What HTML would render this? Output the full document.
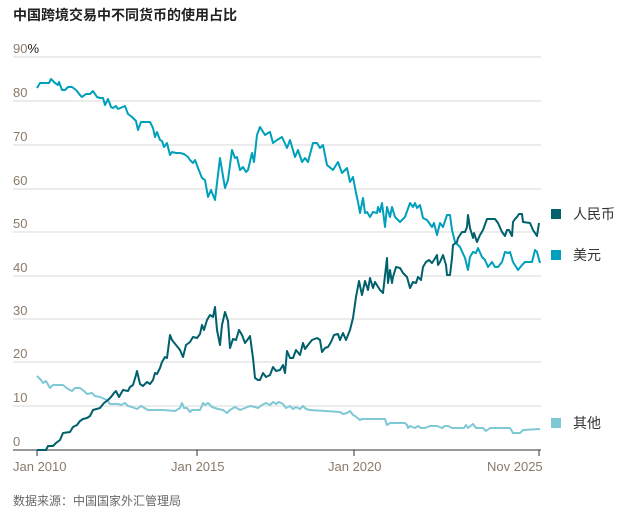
<!DOCTYPE html>
<html><head><meta charset="utf-8"><style>
body{margin:0;background:#fff;width:624px;height:513px;overflow:hidden;font-family:"Liberation Sans","Noto Sans CJK SC",sans-serif}
</style></head><body>
<svg width="624" height="513" xmlns="http://www.w3.org/2000/svg" font-family="Liberation Sans, Noto Sans CJK SC, sans-serif">
<text x="13" y="20" font-size="14" font-weight="bold" fill="#222">中国跨境交易中不同货币的使用占比</text>
<g stroke="#ececec" stroke-width="2">
<line x1="13" x2="541" y1="57" y2="57"/><line x1="13" x2="541" y1="101" y2="101"/><line x1="13" x2="541" y1="145" y2="145"/><line x1="13" x2="541" y1="189" y2="189"/><line x1="13" x2="541" y1="232" y2="232"/><line x1="13" x2="541" y1="276" y2="276"/><line x1="13" x2="541" y1="319" y2="319"/><line x1="13" x2="541" y1="362" y2="362"/><line x1="13" x2="541" y1="406" y2="406"/>
</g>
<g font-size="13" fill="#8a7a6a">
<text x="13" y="53">90<tspan fill="#222">%</tspan></text><text x="13" y="97">80</text><text x="13" y="141">70</text><text x="13" y="185">60</text><text x="13" y="228">50</text><text x="13" y="272">40</text><text x="13" y="315">30</text><text x="13" y="358">20</text><text x="13" y="402">10</text><text x="13" y="446">0</text>
</g>
<line x1="13" x2="541" y1="450" y2="450" stroke="#999" stroke-width="2"/>
<g stroke="#333" stroke-width="1"><line x1="37" x2="37" y1="450" y2="456"/><line x1="197" x2="197" y1="450" y2="456"/><line x1="354" x2="354" y1="450" y2="456"/><line x1="539" x2="539" y1="450" y2="456"/></g>
<g font-size="13" fill="#8a7a6a">
<text x="13" y="471">Jan 2010</text><text x="171" y="471">Jan 2015</text><text x="328" y="471">Jan 2020</text><text x="487" y="471">Nov 2025</text>
</g>
<g fill="none" stroke-width="2" stroke-linejoin="round">
<polyline stroke="#7fc8d6" points="37,376 41,380 43,383 46,381 50,388 53,385 63,385 68,389 72,391 75,388 80,388 84,391 87,394 92,393 95,396 100,397 107,400 110,404 118,404 121,405 125,403 128,406 132,407 137,409 141,406 148,410 163,410 175,411 180,408 182,403 184,408 187,408 190,412 192,410 200,410 203,403 205,405 208,403 212,407 218,409 223,410 227,413 230,410 235,407 240,410 245,408 250,406 255,407 258,408 262,405 266,403 270,405 273,402 276,404 279,402 283,404 286,408 290,406 293,409 296,407 300,409 303,406 306,409 310,410 340,412 343,414 347,413 350,411 353,415 355,416 360,420 362,419 385,419 387,425 390,423 405,423 407,425 408,428 410,426 415,428 418,426 421,428 425,428 430,426 437,426 442,428 445,426 448,426 452,428 464,428 466,425 468,428 473,424 476,428 483,428 486,431 490,428 510,428 513,433 520,433 523,430 540,429"/>
<polyline stroke="#00a0bc" points="37,88 40,83 49,83 51,79 55,83 58,85 59,82 62,90 65,90 68,87 72,87 76,90 80,95 82,97 86,94 90,94 93,91 97,97 100,98 103,98 105,105 108,99 111,107 113,108 116,106 118,109 125,106 128,114 132,117 136,121 138,130 141,122 150,122 153,128 155,137 157,132 160,140 162,141 164,147 167,143 170,155 172,152 176,153 180,153 184,154 188,157 190,160 193,163 195,160 198,168 202,178 205,180 208,197 211,190 215,200 220,158 225,188 228,180 232,150 235,158 237,157 240,170 243,167 246,172 248,170 252,153 254,162 257,135 260,127 265,135 268,133 270,132 273,143 277,140 282,137 287,148 290,140 295,157 298,150 302,162 305,158 308,162 313,143 317,143 320,148 323,145 327,165 333,170 338,162 342,173 347,168 350,182 353,177 356,193 358,202 360,213 363,198 365,213 367,212 370,217 373,212 377,213 378,207 380,212 382,203 385,227 387,207 390,217 392,207 395,217 400,222 405,217 410,203 413,207 415,203 417,208 420,205 423,218 427,220 432,227 434,223 437,235 440,223 443,227 447,215 450,215 452,230 455,242 460,247 465,258 468,270 470,257 473,252 476,253 478,248 482,257 485,260 488,267 492,262 495,267 498,267 502,262 505,252 508,253 510,252 513,262 518,270 522,265 525,262 532,262 535,250 537,252 540,263"/>
<polyline stroke="#00606b" points="37,450 46,450 48,446 53,446 56,443 60,440 63,433 70,432 73,427 77,425 80,421 83,419 87,418 90,416 93,410 100,408 104,403 108,400 111,397 114,393 116,391 119,397 123,390 128,391 130,387 133,385 136,375 137,371 140,384 143,386 147,382 150,384 153,380 155,373 157,374 160,368 162,362 165,357 167,358 170,335 172,340 176,345 180,350 183,357 186,345 190,342 193,337 197,338 200,334 202,325 204,330 207,320 210,315 213,317 215,307 217,330 220,345 222,325 225,312 228,321 230,348 233,339 236,340 239,330 242,335 245,343 248,339 250,336 253,358 255,378 258,380 260,380 263,373 266,377 270,375 273,367 276,371 280,370 283,365 285,373 287,351 290,358 293,358 296,350 300,355 303,343 305,349 308,345 312,340 317,338 320,340 322,352 325,348 328,347 331,342 334,335 338,334 340,340 343,333 346,340 350,330 353,318 356,297 359,281 362,295 365,281 368,290 370,278 373,288 375,282 380,290 383,293 387,258 388,283 390,270 392,283 393,277 396,267 400,268 403,273 407,277 410,288 413,282 416,283 418,277 421,280 423,267 426,262 429,260 432,263 434,260 437,255 438,265 440,262 443,255 446,265 447,275 450,275 452,258 453,245 457,242 458,238 462,232 465,232 467,227 468,215 470,228 473,238 474,233 477,242 480,235 483,230 487,219 495,219 498,223 502,232 505,236 507,230 509,230 512,236 513,222 515,219 517,217 519,214 522,214 523,222 530,223 533,230 537,236 539,223"/>
</g>
<rect x="551" y="209" width="10" height="10" fill="#00606b"/><text x="573" y="219" font-size="14" fill="#333">人民币</text>
<rect x="551" y="250" width="10" height="10" fill="#00a0bc"/><text x="573" y="260" font-size="14" fill="#333">美元</text>
<rect x="551" y="418" width="10" height="10" fill="#7fc8d6"/><text x="573" y="428" font-size="14" fill="#333">其他</text>
<text x="13" y="505" font-size="12" fill="#666">数据来源：中国国家外汇管理局</text>
</svg>
</body></html>
